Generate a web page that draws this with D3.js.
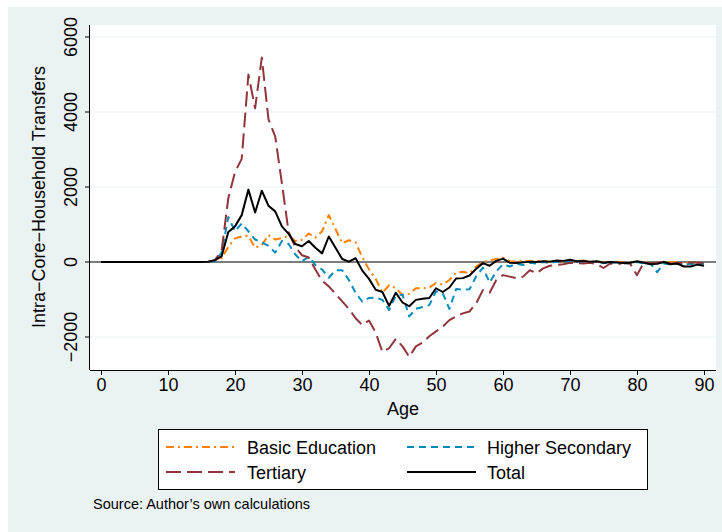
<!DOCTYPE html>
<html>
<head>
<meta charset="utf-8">
<script src="https://cdn.jsdelivr.net/npm/d3@7/dist/d3.min.js"></script>
<style>
  html, body { margin: 0; padding: 0; background: #ffffff; }
  svg { display: block; font-family: "Liberation Sans", Arial, sans-serif; }
</style>
</head>
<body>
<svg id="chart" width="722" height="532"></svg>
<script>
// Age 0..90
const ages = d3.range(0, 91);

const basicEducation = [
  0, 0, 0, 0, 0, 0, 0, 0, 0, 0,
  0, 0, 0, 0, 0, 0, 0, 30, 100, 400,
  630, 680, 700, 380, 450, 720, 600, 640, 700, 560,
  590, 760, 650, 820, 1250, 880, 500, 580, 520, 130,
  -200, -450, -820, -620, -700, -880, -850, -700, -700, -680,
  -560, -600, -480, -280, -260, -300, -120, 0, 40, 80,
  120, 20, 10, 30, 20, 30, 20, 0, 20, 10,
  30, 20, 40, 10, 10, 0, 0, 10, -20, -10,
  0, 10, -20, -30, 10, 0, 0, -40, -20, -30,
  -10
];

const higherSecondary = [
  0, 0, 0, 0, 0, 0, 0, 0, 0, 0,
  0, 0, 0, 0, 0, 0, 0, 20, 250, 1200,
  820, 1030, 820, 600, 520, 430, 250, 560, 480, 200,
  20, 140, -80, -200, -420, -220, -220, -480, -820, -1060,
  -960, -950, -1010, -1280, -900, -870, -1450, -1250, -1200, -1150,
  -780, -830, -1250, -720, -740, -730, -380, -150, -550, -250,
  -60, -120, -50, -80, -20, -40, 0, -30, 10, -10,
  20, 10, 0, -20, 10, -30, -20, -10, -40, -30,
  0, -40, -30, -270, -40, -60, -40, -80, -50, -60,
  -40
];

const tertiary = [
  0, 0, 0, 0, 0, 0, 0, 0, 0, 0,
  0, 0, 0, 0, 0, 0, 0, 50, 300, 1700,
  2400, 2750, 5000, 4100, 5450, 3800, 3350, 2100, 800, 400,
  180, 120, -200, -500, -650, -850, -1050, -1250, -1500, -1680,
  -1560, -1880, -2400, -2300, -2050, -2250, -2530, -2250, -2150, -1980,
  -1850, -1725, -1550, -1450, -1370, -1320, -1100, -750, -820, -480,
  -350, -390, -430, -390, -220, -300, -170, -100, -80, -60,
  -20, -30, -40, -20, -60, -160, -40, -60, -20, -50,
  -350, -20, -30, -20, -10, -40, -30, -20, -10, -20,
  -30
];

const total = [
  0, 0, 0, 0, 0, 0, 0, 0, 0, 0,
  0, 0, 0, 0, 0, 0, 10, 50, 150, 800,
  950, 1250, 1930, 1320, 1900, 1500, 1350, 950, 750, 480,
  420, 560, 380, 230, 680, 380, 80, 10, 100, -230,
  -450, -740, -800, -1170, -820, -1080, -1180, -1010, -980, -960,
  -700, -800, -680, -440, -430, -360, -180, -30, -100, 30,
  90, -20, -30, -10, 10, 0, 20, 10, 40, 30,
  60, 20, 30, 10, 20, -20, 0, -10, -30, -20,
  20, -20, -60, -50, 0, -60, -40, -120, -120, -70,
  -100
];

const xTicks = [0, 10, 20, 30, 40, 50, 60, 70, 80, 90];
const yTicks = [-2000, 0, 2000, 4000, 6000];

const seriesNames = ["Basic Education", "Higher Secondary", "Tertiary", "Total"];

const series = [
  { name: seriesNames[0], values: basicEducation, color: "#ff7f00", dash: "8,4,2,4" },
  { name: seriesNames[1], values: higherSecondary, color: "#008bbc", dash: "7,5" },
  { name: seriesNames[2], values: tertiary, color: "#90353b", dash: "15,6" },
  { name: seriesNames[3], values: total, color: "#000000", dash: null }
];

const svg = d3.select("#chart");
const W = 722, H = 532;
const FONT = "Liberation Sans, Arial, sans-serif";

// graph region background
svg.append("rect").attr("x", 8).attr("y", 7).attr("width", W - 8).attr("height", H - 7)
  .attr("fill", "#eaf2f3");

const plot = { left: 90, top: 25, right: 716, bottom: 370 };

svg.append("rect")
  .attr("x", plot.left).attr("y", plot.top)
  .attr("width", plot.right - plot.left).attr("height", plot.bottom - plot.top)
  .attr("fill", "#ffffff");

const x = d3.scaleLinear().domain([0, 90]).range([101, 704]);
const y = d3.scaleLinear().domain([0, 6000]).range([262, 37]);

// horizontal grid lines
svg.append("g").selectAll("line")
  .data(yTicks)
  .join("line")
  .attr("x1", plot.left).attr("x2", plot.right)
  .attr("y1", d => y(d)).attr("y2", d => y(d))
  .attr("stroke", "#eaf2f3").attr("stroke-width", 1.2);

// reference line at zero
svg.append("line")
  .attr("x1", plot.left).attr("x2", plot.right)
  .attr("y1", y(0)).attr("y2", y(0))
  .attr("stroke", "#000").attr("stroke-width", 1);

// series
const line = d3.line().x((d, i) => x(ages[i])).y(d => y(d));
svg.append("g").selectAll("path")
  .data(series)
  .join("path")
  .attr("d", d => line(d.values))
  .attr("fill", "none")
  .attr("stroke", d => d.color)
  .attr("stroke-width", 2)
  .attr("stroke-dasharray", d => d.dash)
  .attr("stroke-linejoin", "round");

// axes
const xAxis = d3.axisBottom(x).tickValues(xTicks).tickSize(5).tickPadding(3);
const gx = svg.append("g").attr("transform", `translate(0,${plot.bottom})`).call(xAxis);
gx.select(".domain").attr("d", `M${plot.left},0.5H${plot.right}`);
gx.selectAll("text").attr("font-size", 18).attr("fill", "#000").attr("font-family", FONT);

const yAxis = d3.axisLeft(y).tickValues(yTicks).tickSize(5).tickPadding(3);
const gy = svg.append("g").attr("transform", `translate(${plot.left},0)`).call(yAxis);
gy.select(".domain").attr("d", `M-0.5,${plot.top}V${plot.bottom}`);
gy.selectAll(".tick").attr("transform", null);
gy.selectAll(".tick line").attr("y1", d => y(d)).attr("y2", d => y(d)).attr("x2", -5);
gy.selectAll(".tick text")
  .attr("font-size", 18).attr("fill", "#000").attr("font-family", FONT)
  .attr("text-anchor", "middle")
  .attr("dy", null)
  .attr("x", null)
  .attr("y", 0)
  .attr("transform", d => `translate(-13,${y(d)}) rotate(-90)`)
  .text(d => d < 0 ? "\u2212" + Math.abs(d) : String(d));

// axis titles
svg.append("text")
  .attr("x", (plot.left + plot.right) / 2).attr("y", 415)
  .attr("text-anchor", "middle").attr("font-size", 18)
  .text("Age");

svg.append("text")
  .attr("transform", `translate(45,197) rotate(-90)`)
  .attr("text-anchor", "middle").attr("font-size", 18)
  .text("Intra\u2212Core\u2212Household Transfers");

// legend
const lg = svg.append("g");
lg.append("rect").attr("x", 158.5).attr("y", 429.5).attr("width", 489).attr("height", 60)
  .attr("fill", "#fff").attr("stroke", "#000").attr("stroke-width", 1);

const legendPos = [
  { sx: 166, tx: 247, ty: 447 },
  { sx: 407, tx: 487, ty: 447 },
  { sx: 166, tx: 247, ty: 472 },
  { sx: 407, tx: 487, ty: 472 }
];
series.forEach((s, i) => {
  const p = legendPos[i];
  lg.append("line")
    .attr("x1", p.sx).attr("x2", p.sx + 69)
    .attr("y1", p.ty).attr("y2", p.ty)
    .attr("stroke", s.color).attr("stroke-width", 2)
    .attr("stroke-dasharray", s.dash);
  lg.append("text")
    .attr("x", p.tx).attr("y", p.ty + 6.5)
    .attr("font-size", 18)
    .text(s.name);
});

svg.append("text")
  .attr("x", 93).attr("y", 509)
  .attr("font-size", 14.5)
  .text("Source: Author\u2019s own calculations");
</script>
</body>
</html>
